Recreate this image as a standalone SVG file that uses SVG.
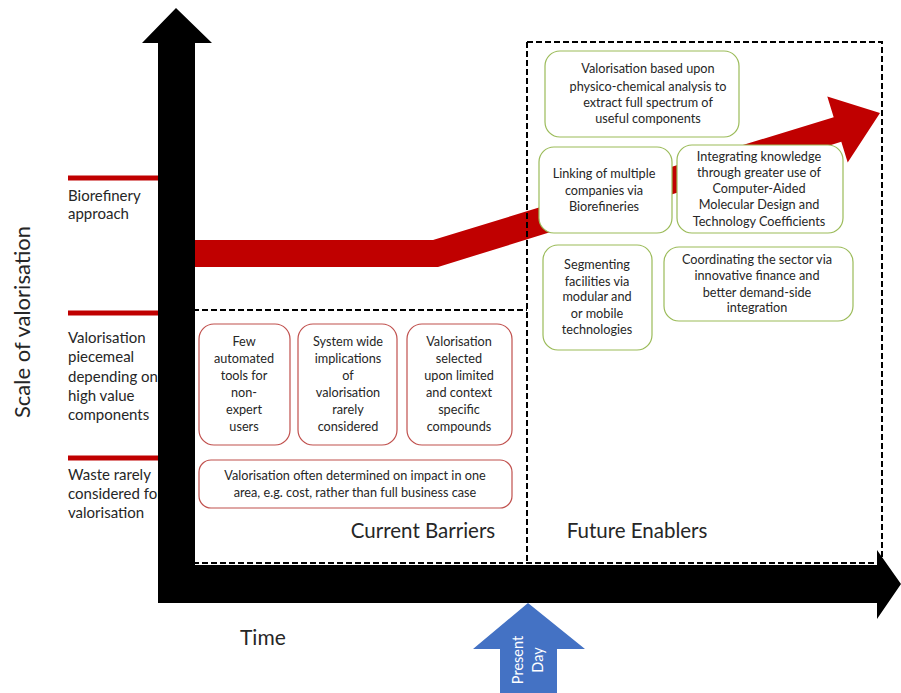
<svg xmlns="http://www.w3.org/2000/svg" width="901" height="693" viewBox="0 0 901 693">
<style>
text{font-family:Lato,"Open Sans","Liberation Sans",sans-serif;fill:#262626}
.lbl{font-size:15px}
.bx{font-size:12.7px;text-anchor:middle}
.big{font-size:20.5px}
.rb{fill:#fff;stroke:#c0504d;stroke-width:1.2}
.gb{fill:#fff;stroke:#9bbb59;stroke-width:1.2}
.dash{fill:none;stroke:#000;stroke-width:2;stroke-dasharray:6 3}
.tick{stroke:#c00000;stroke-width:5}
</style>
<rect width="901" height="693" fill="#fff"/>
<g id="axis-labels">
<text transform="translate(30,322) rotate(-90)" text-anchor="middle" style="font-size:22px">Scale of valorisation</text>
<text class="big" x="240" y="645" style="font-size:21px">Time</text>
</g>
<g id="level-labels">
<line class="tick" x1="68" y1="178" x2="160" y2="178"/>
<line class="tick" x1="68" y1="313" x2="160" y2="313"/>
<line class="tick" x1="68" y1="458" x2="160" y2="458"/>
<text class="lbl" x="68"><tspan x="68" y="201">Biorefinery</tspan><tspan x="68" y="219">approach</tspan></text>
<text class="lbl" x="68"><tspan x="68" y="343">Valorisation</tspan><tspan x="68" y="362">piecemeal</tspan><tspan x="68" y="382">depending on</tspan><tspan x="68" y="401">high value</tspan><tspan x="68" y="420">components</tspan></text>
<text class="lbl" x="68"><tspan x="68" y="480">Waste rarely</tspan><tspan x="68" y="499">considered for</tspan><tspan x="68" y="518">valorisation</tspan></text>
</g>
<g id="trend-arrow">
<polygon fill="#c00000" points="193,240 433,240 833.7,117.2 827.3,96.5 880,113 847.7,162.5 841.3,141.8 438,267 193,267"/>
</g>
<g id="regions">
<path class="dash" d="M193,310 H527 M527,42 V564 M527,42 H882 V564 M193,563 H882"/>
<text class="big" x="423" y="538" text-anchor="middle">Current Barriers</text>
<text class="big" x="637" y="538" text-anchor="middle">Future Enablers</text>
</g>
<g id="axes">
<polygon fill="#000" points="158,603 158,43 142,43 176,8 212,43 195,43 195,565 877,565 877,550 901,584 877,619 877,603"/>
</g>
<g id="present-day">
<polygon fill="#4472c4" points="500,693 500,649 473,649 528,603 585,649 557,649 557,693"/>
<text transform="translate(523,660) rotate(-90)" text-anchor="middle" style="font-size:14.5px;fill:#fff">Present</text>
<text transform="translate(543,660) rotate(-90)" text-anchor="middle" style="font-size:14.5px;fill:#fff">Day</text>
</g>
<g id="barrier-1">
<rect class="rb" x="199" y="324" width="91" height="121" rx="15"/>
<text class="bx"><tspan x="244" y="346">Few</tspan><tspan x="244" y="363">automated</tspan><tspan x="244" y="380">tools for</tspan><tspan x="244" y="397">non-</tspan><tspan x="244" y="414">expert</tspan><tspan x="244" y="431">users</tspan></text>
</g>
<g id="barrier-2">
<rect class="rb" x="298" y="324" width="99" height="121" rx="15"/>
<text class="bx"><tspan x="348" y="346">System wide</tspan><tspan x="348" y="363">implications</tspan><tspan x="348" y="380">of</tspan><tspan x="348" y="397">valorisation</tspan><tspan x="348" y="414">rarely</tspan><tspan x="348" y="431">considered</tspan></text>
</g>
<g id="barrier-3">
<rect class="rb" x="407" y="324" width="105" height="121" rx="15"/>
<text class="bx"><tspan x="459" y="346">Valorisation</tspan><tspan x="459" y="363">selected</tspan><tspan x="459" y="380">upon limited</tspan><tspan x="459" y="397">and context</tspan><tspan x="459" y="414">specific</tspan><tspan x="459" y="431">compounds</tspan></text>
</g>
<g id="barrier-4">
<rect class="rb" x="199" y="460" width="313" height="48" rx="12"/>
<text class="bx"><tspan x="355" y="480">Valorisation often determined on impact in one</tspan><tspan x="355" y="497">area, e.g. cost, rather than full business case</tspan></text>
</g>
<g id="enabler-1">
<rect class="gb" x="545" y="51" width="194" height="86" rx="15"/>
<text class="bx"><tspan x="648" y="73">Valorisation based upon</tspan><tspan x="648" y="91">physico-chemical analysis to</tspan><tspan x="648" y="107">extract full spectrum of</tspan><tspan x="648" y="123">useful components</tspan></text>
</g>
<g id="enabler-2">
<rect class="gb" x="539" y="147" width="133" height="86" rx="15"/>
<text class="bx"><tspan x="604" y="178">Linking of multiple</tspan><tspan x="604" y="195">companies via</tspan><tspan x="604" y="211">Biorefineries</tspan></text>
</g>
<g id="enabler-3">
<rect class="gb" x="677" y="145" width="166" height="88" rx="15"/>
<text class="bx"><tspan x="759" y="161">Integrating knowledge</tspan><tspan x="759" y="177">through greater use of</tspan><tspan x="759" y="193">Computer-Aided</tspan><tspan x="759" y="209">Molecular Design and</tspan><tspan x="759" y="226">Technology Coefficients</tspan></text>
</g>
<g id="enabler-4">
<rect class="gb" x="543" y="245" width="109" height="105" rx="15"/>
<text class="bx"><tspan x="597" y="269">Segmenting</tspan><tspan x="597" y="286">facilities via</tspan><tspan x="597" y="301">modular and</tspan><tspan x="597" y="318">or mobile</tspan><tspan x="597" y="334">technologies</tspan></text>
</g>
<g id="enabler-5">
<rect class="gb" x="664" y="247" width="189" height="74" rx="15"/>
<text class="bx"><tspan x="757" y="264">Coordinating the sector via</tspan><tspan x="757" y="280">innovative finance and</tspan><tspan x="757" y="297">better demand-side</tspan><tspan x="757" y="312">integration</tspan></text>
</g>
</svg>
